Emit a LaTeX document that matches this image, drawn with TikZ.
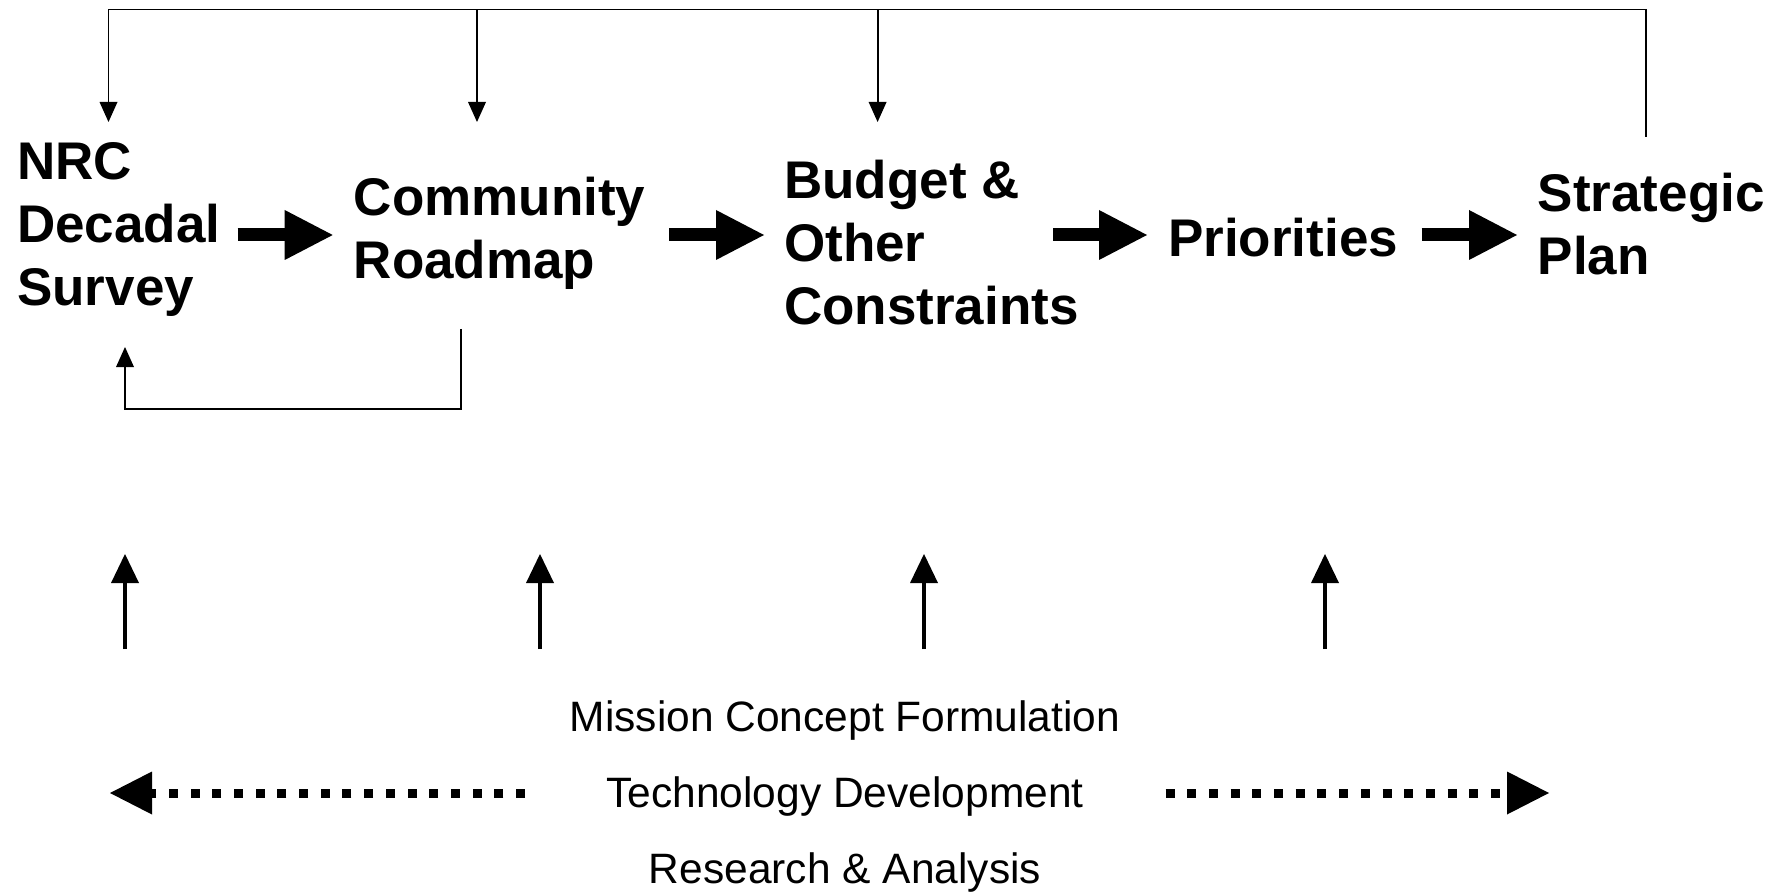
\documentclass[tikz,border=0pt]{standalone}
\usepackage{fontspec}
\setmainfont{Liberation Sans}
\usetikzlibrary{arrows.meta}
\begin{document}
\begin{tikzpicture}[x=1pt,y=-1pt,
  stage/.style={font=\bfseries\fontsize{53}{63.3}\selectfont, align=left, inner sep=0pt, anchor=base west},
  lowtext/.style={font=\fontsize{42.5}{50}\selectfont, inner sep=0pt, anchor=base},
  flow/.style={line width=13pt, -{Triangle[length=48pt,width=50pt,line width=0pt]}},
  feed/.style={line width=1.8pt},
  feedarrow/.style={feed, -{Triangle[length=20pt,width=18pt,line width=0pt]}},
  support/.style={line width=3.5pt, -{Triangle[length=29pt,width=28pt,line width=0pt]}},
  dotarrow/.style={line width=9pt, dash pattern=on 9pt off 12.7pt, -{Triangle[length=42pt,width=43pt,line width=0pt]}}
]
\useasboundingbox (0,0) rectangle (1783,893);

% stage nodes (anchored at the baseline of their last line)
\node[stage] (nrc) at (17,306) {NRC\\Decadal\\Survey};
\node[stage] (comm) at (353.6,279) {Community\\Roadmap};
\node[stage] (budget) at (784,325) {Budget \&\\Other\\Constraints};
\node[stage] (prio) at (1168,257) {Priorities};
\node[stage] (strat) at (1537.6,275) {Strategic\\Plan};

% bottom texts
\node[lowtext] (mission) at (845,731) {Mission Concept Formulation};
\node[lowtext] (tech) at (845,807) {Technology Development};
\node[lowtext] (research) at (845,883) {Research \& Analysis};

% connector coordinates
\coordinate (f1a) at (237.5,235); \coordinate (f1b) at (332.7,235);
\coordinate (f2a) at (669,235);   \coordinate (f2b) at (764,235);
\coordinate (f3a) at (1053,235);  \coordinate (f3b) at (1147,235);
\coordinate (f4a) at (1421.7,235);\coordinate (f4b) at (1517,235);

\coordinate (sBot) at (1645.7,137); \coordinate (sTop) at (1645.7,9.5);
\coordinate (nTop) at (108.5,9.5);  \coordinate (nEnd) at (108.5,122);
\coordinate (cTop) at (477,9.5);    \coordinate (cEnd) at (477,122);
\coordinate (bTop) at (877.6,9.5);  \coordinate (bEnd) at (877.6,122);

\coordinate (rBot) at (461,329); \coordinate (rCorner) at (461,409);
\coordinate (lCorner) at (125,409); \coordinate (lEnd) at (125,347);

\coordinate (u1a) at (125,649);  \coordinate (u1b) at (125,554);
\coordinate (u2a) at (540,649);  \coordinate (u2b) at (540,554);
\coordinate (u3a) at (924,649);  \coordinate (u3b) at (924,554);
\coordinate (u4a) at (1325,649); \coordinate (u4b) at (1325,554);

\coordinate (dLa) at (525,793);    \coordinate (dLb) at (110,793);
\coordinate (dRa) at (1165.5,793); \coordinate (dRb) at (1549,793);

% main flow
\draw[flow] (f1a) -- (f1b);
\draw[flow] (f2a) -- (f2b);
\draw[flow] (f3a) -- (f3b);
\draw[flow] (f4a) -- (f4b);

% top feedback
\draw[feedarrow] (sBot) -- (sTop) -- (nTop) -- (nEnd);
\draw[feedarrow] (cTop) -- (cEnd);
\draw[feedarrow] (bTop) -- (bEnd);

% roadmap to survey feedback
\draw[feedarrow] (rBot) -- (rCorner) -- (lCorner) -- (lEnd);

% supporting arrows
\draw[support] (u1a) -- (u1b);
\draw[support] (u2a) -- (u2b);
\draw[support] (u3a) -- (u3b);
\draw[support] (u4a) -- (u4b);

% dotted arrows
\draw[dotarrow] (dLa) -- (dLb);
\draw[dotarrow] (dRa) -- (dRb);
\end{tikzpicture}
\end{document}
